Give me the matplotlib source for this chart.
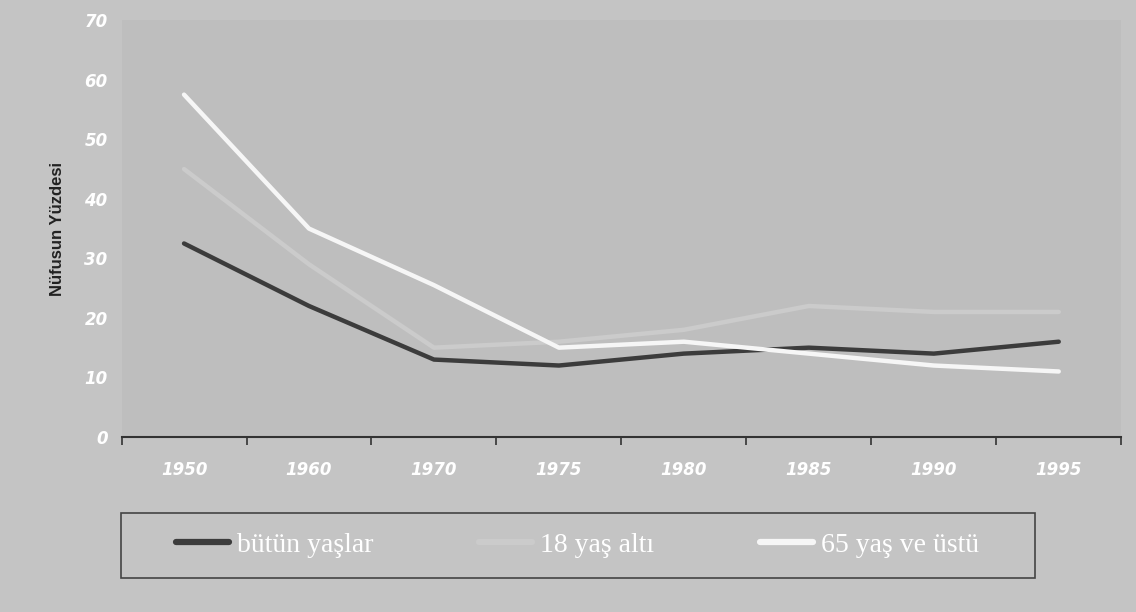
import numpy as np
import matplotlib.pyplot as plt
from matplotlib.patches import Rectangle

years = ['1950', '1960', '1970', '1975', '1980', '1985', '1990', '1995']
butun = [32.5, 22, 13, 12, 14, 15, 14, 16]
alti18 = [45, 29, 15, 16, 18, 22, 21, 21]
ustu65 = [57.5, 35, 25.5, 15, 16, 14, 12, 11]

fig = plt.figure(figsize=(11.36, 6.12), dpi=100, facecolor='#c4c4c4')
ax = fig.add_axes([0.107, 0.286, 0.88, 0.681])
ax.set_facecolor('#bebebe')

x = np.arange(len(years))
ax.plot(x, butun, color='#3c3c3c', lw=3.2, solid_capstyle='round', label='bütün yaşlar')
ax.plot(x, alti18, color='#cbcbcb', lw=3.2, solid_capstyle='round', label='18 yaş altı')
ax.plot(x, ustu65, color='#f6f6f6', lw=3.2, solid_capstyle='round', label='65 yaş ve üstü')

ax.set_xlim(-0.5, len(years) - 0.5)
ax.set_ylim(0, 70)
ax.set_yticks(range(0, 71, 10))
ax.tick_params(axis='y', length=0, colors='white', labelsize=12, pad=10)
for t in ax.get_yticklabels():
    t.set_fontstyle('italic')
    t.set_fontweight('bold')

ax.set_xticks(x)
ax.set_xticklabels(years, color='white', fontsize=12, fontweight='bold', fontstyle='italic')
ax.tick_params(axis='x', which='major', length=0, pad=17)
ax.set_xticks(np.arange(-0.5, len(years)), minor=True)
ax.tick_params(axis='x', which='minor', length=6, direction='out', color='#333333', width=1.2)

for s in ['top', 'right', 'left']:
    ax.spines[s].set_visible(False)
ax.spines['bottom'].set_color('#333333')
ax.spines['bottom'].set_linewidth(1.5)

ax.set_ylabel('Nüfusun Yüzdesi', fontsize=12, fontweight='bold', color='#222222',
              family='Liberation Sans', labelpad=14)

# legend box
fig.patches.append(Rectangle((0.1065, 0.0556), 0.805, 0.106, transform=fig.transFigure,
                             facecolor='none', edgecolor='#444444', lw=1.2))
leg = fig.legend(loc='center left', bbox_to_anchor=(0.145, 0.1095), ncol=3, frameon=False,
                 handlelength=1.9, handletextpad=0.3, columnspacing=3.8,
                 borderaxespad=0, prop={'family': 'Liberation Serif', 'size': 20})
for t in leg.get_texts():
    t.set_color('white')
for h in leg.get_lines():
    h.set_linewidth(4.5)

fig.savefig('out.png', dpi=100, facecolor=fig.get_facecolor())
